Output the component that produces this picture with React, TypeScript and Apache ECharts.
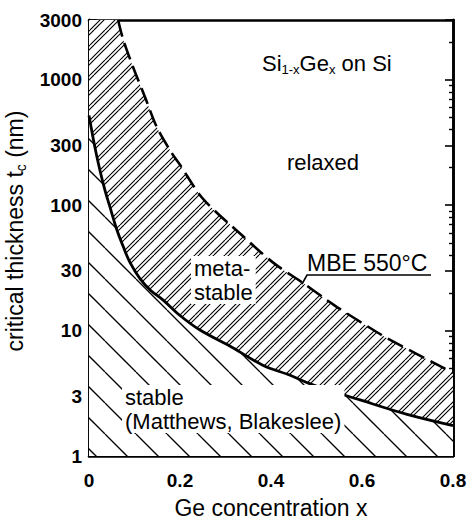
import { useEffect, useRef } from "react";
import * as echarts from "echarts";

// Matthews–Blakeslee equilibrium critical thickness (solid curve)
const mbFraction = [0, 0.013, 0.024, 0.035, 0.046, 0.061, 0.075, 0.09, 0.112, 0.135, 0.163, 0.2, 0.244, 0.316, 0.382, 0.442, 0.492, 0.596, 0.699, 0.8];
const mbThickness = [520, 290, 190, 132, 97, 64, 47, 35, 26, 21, 17.5, 13.2, 10.1, 7.3, 5.3, 4.4, 3.7, 2.8, 2.15, 1.75];

// Metastable limit for MBE growth at 550 °C (dashed curve)
const mbeFraction = [0.064, 0.075, 0.097, 0.123, 0.149, 0.182, 0.2, 0.244, 0.281, 0.316, 0.404, 0.47, 0.523, 0.545, 0.633, 0.655, 0.8];
const mbeThickness = [3000, 2100, 1260, 730, 420, 260, 210, 120, 87, 67, 35, 24, 17.5, 15.4, 9.7, 8.7, 4.6];

// Axis ticks
const yMajorTicks = [1, 3, 10, 30, 100, 300, 1000, 3000];
const yMinorTicks = [
  2, 4, 5, 6, 7, 8, 9,
  20, 40, 50, 60, 70, 80, 90,
  200, 400, 500, 600, 700, 800, 900,
  2000,
];
const xMin = 0;
const xMax = 0.8;
const xStep = 0.2;
const yMin = 1;
const yMax = 3000;

const FONT = '"Liberation Sans", Arial, Helvetica, sans-serif';
const NARROW = '"Liberation Sans Narrow", "Arial Narrow", "Liberation Sans", sans-serif';

// Hatch tile: white background with diagonal strokes.
// dir 1 draws "\" strokes, dir -1 draws "/" strokes.
function makeHatch(size: number, dir: number, offsets: number[], lineWidth: number) {
  const c = document.createElement("canvas");
  c.width = size;
  c.height = size;
  const g = c.getContext("2d")!;
  g.fillStyle = "#fff";
  g.fillRect(0, 0, size, size);
  g.strokeStyle = "#000";
  g.lineWidth = lineWidth;
  g.beginPath();
  for (const o of offsets) {
    for (let k = -1; k <= 1; k++) {
      const x0 = o + k * size;
      if (dir > 0) {
        g.moveTo(x0, 0);
        g.lineTo(x0 + size, size);
      } else {
        g.moveTo(x0, size);
        g.lineTo(x0 + size, 0);
      }
    }
  }
  g.stroke();
  return c;
}

const pairs = (xs: number[], ys: number[]) => xs.map((x, i) => [x, ys[i]]);

export default function App() {
  const ref = useRef<HTMLDivElement>(null);

  useEffect(() => {
    if (!ref.current) return;
    const chart = echarts.init(ref.current, undefined, { renderer: "svg" });

    const stableHatch = { image: makeHatch(31, 1, [12], 1.3), repeat: "repeat" };
    const metaHatch = { image: makeHatch(15, -1, [0, 4], 1.1), repeat: "repeat" };

    const axisLine = { show: true, onZero: false, lineStyle: { color: "#000", width: 2.6 } };
    const tickLabel = { fontFamily: NARROW, fontWeight: "bold" as const, fontSize: 19, color: "#000" };

    const yBase = {
      type: "log" as const,
      logBase: 10,
      min: yMin,
      max: yMax,
      splitLine: { show: false },
      axisLine,
    };

    // labels sitting on hatching get a white box that clears the strokes
    const boxed = { backgroundColor: "#fff", padding: [0, 3, 0, 3] };

    const option: any = {
      animation: false,
      backgroundColor: "#fff",
      grid: { left: 89, right: 15, top: 20, bottom: 65, containLabel: false, outerBoundsMode: "none" },
      xAxis: [
        {
          type: "value",
          position: "bottom",
          min: xMin,
          max: xMax,
          interval: xStep,
          axisLine,
          axisTick: { show: true, inside: true, length: 8, lineStyle: { color: "#000", width: 1.6 } },
          minorTick: { show: true, splitNumber: 2, length: 4, lineStyle: { color: "#000", width: 1.4 } },
          splitLine: { show: false },
          axisLabel: { ...tickLabel, margin: 15, formatter: (v: number) => (v === 0 ? "0" : String(+v.toFixed(1))) },
          name: "Ge concentration x",
          nameLocation: "middle",
          nameGap: 40,
          nameTextStyle: { fontFamily: FONT, fontSize: 23, color: "#000" },
        },
        {
          type: "value",
          position: "top",
          min: xMin,
          max: xMax,
          axisLine,
          axisTick: { show: false },
          axisLabel: { show: false },
          splitLine: { show: false },
        },
      ],
      yAxis: [
        {
          ...yBase,
          position: "left",
          axisTick: { show: true, inside: true, length: 8, customValues: yMajorTicks, lineStyle: { color: "#000", width: 1.6 } },
          axisLabel: { ...tickLabel, margin: 7, customValues: yMajorTicks, formatter: (v: number) => String(Math.round(v)) },
          name: "{m|critical thickness t}{s|c}{m| (nm)}",
          nameLocation: "middle",
          nameGap: 61,
          nameTextStyle: {
            color: "#000",
            padding: [0, 0, 0, 14],
            rich: {
              m: { fontFamily: FONT, fontSize: 23, lineHeight: 26, color: "#000" },
              s: { fontFamily: FONT, fontSize: 14, lineHeight: 12, verticalAlign: "bottom", color: "#000" },
            },
          },
        },
        {
          ...yBase,
          position: "left",
          axisTick: { show: true, inside: true, length: 4, customValues: yMinorTicks, lineStyle: { color: "#000", width: 1.4 } },
          axisLabel: { show: false },
        },
        {
          ...yBase,
          position: "right",
          axisTick: { show: true, inside: true, length: 8, customValues: yMajorTicks, lineStyle: { color: "#000", width: 1.6 } },
          axisLabel: { show: false },
        },
        {
          ...yBase,
          position: "right",
          axisTick: { show: true, inside: true, length: 4, customValues: yMinorTicks, lineStyle: { color: "#000", width: 1.4 } },
          axisLabel: { show: false },
        },
      ],
      series: [
        {
          // metastable band next to the y axis, up to the top of the frame
          type: "line",
          z: 1,
          data: [[xMin, yMax], [mbeFraction[0], yMax]],
          showSymbol: false,
          lineStyle: { width: 0 },
          areaStyle: { origin: "start", color: metaHatch, opacity: 1 },
          silent: true,
        },
        {
          name: "MBE 550°C",
          type: "line",
          z: 1,
          data: pairs(mbeFraction, mbeThickness),
          smooth: 0.3,
          showSymbol: false,
          lineStyle: { width: 0 },
          areaStyle: { origin: "start", color: metaHatch, opacity: 1 },
          silent: true,
        },
        {
          name: "Matthews, Blakeslee",
          type: "line",
          z: 2,
          data: pairs(mbFraction, mbThickness),
          smooth: 0.35,
          showSymbol: false,
          lineStyle: { width: 0 },
          areaStyle: { origin: "start", color: stableHatch, opacity: 1 },
          silent: true,
        },
        {
          type: "line",
          z: 3,
          data: pairs(mbeFraction, mbeThickness),
          smooth: 0.3,
          showSymbol: false,
          lineStyle: { color: "#000", width: 2.6, type: [17, 7] },
          silent: true,
        },
        {
          type: "line",
          z: 3,
          data: pairs(mbFraction, mbThickness),
          smooth: 0.35,
          showSymbol: false,
          lineStyle: { color: "#000", width: 2.8 },
          silent: true,
        },
      ],
      graphic: [
        {
          type: "text",
          z: 10,
          style: {
            x: 262,
            y: 63,
            verticalAlign: "middle",
            text: "{m|Si}{s|1-x}{m|Ge}{s|x}{m| on Si}",
            rich: {
              m: { fontFamily: FONT, fontSize: 22, lineHeight: 26, fill: "#000" },
              s: { fontFamily: FONT, fontSize: 13, lineHeight: 12, verticalAlign: "bottom", fill: "#000" },
            },
          },
        },
        {
          type: "text",
          z: 10,
          style: { x: 323, y: 162, text: "relaxed", align: "center", verticalAlign: "middle", font: `22px ${FONT}`, fill: "#000" },
        },
        {
          type: "text",
          z: 10,
          style: { x: 191, y: 256, text: "meta-\nstable", lineHeight: 24, verticalAlign: "top", font: `22px ${FONT}`, fill: "#000", ...boxed },
        },
        {
          type: "text",
          z: 10,
          style: { x: 307, y: 263, text: "MBE 550°C", verticalAlign: "middle", font: `23px ${FONT}`, fill: "#000" },
        },
        {
          type: "polyline",
          z: 10,
          shape: { points: [[302, 284], [307, 275], [431, 275]] },
          style: { stroke: "#000", lineWidth: 1.6, fill: null },
        },
        {
          type: "text",
          z: 10,
          style: { x: 122, y: 385, text: "stable\n(Matthews, Blakeslee)", lineHeight: 24, verticalAlign: "top", font: `22px ${FONT}`, fill: "#000", ...boxed },
        },
      ],
    };

    chart.setOption(option);
    return () => chart.dispose();
  }, []);

  return (
    <div
      ref={ref}
      style={{ position: "fixed", left: 0, top: 0, width: 468, height: 521, background: "#fff" }}
    />
  );
}
